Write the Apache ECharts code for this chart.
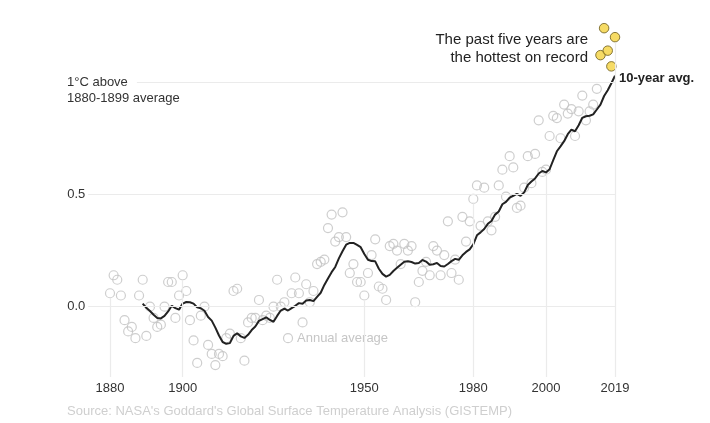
<!DOCTYPE html>
<html><head><meta charset="utf-8">
<script src="https://cdn.jsdelivr.net/npm/echarts@6/dist/echarts.min.js"></script>
<style>html,body{margin:0;padding:0;background:#fff}#c{width:710px;height:423px}</style>
</head><body><div id="c"></div>
<script>
// Annual temperature difference from the 1880-1899 average (°C), 1880..2019
const startYear = 1880;
const annual = [
  0.06, 0.14, 0.12, 0.05, -0.06, -0.11, -0.09, -0.14, 0.05, 0.12,
  -0.13, 0.00, -0.05, -0.09, -0.08, 0.00, 0.11, 0.11, -0.05, 0.05,
  0.14, 0.07, -0.06, -0.15, -0.25, -0.04, 0.00, -0.17, -0.21, -0.26,
  -0.21, -0.22, -0.14, -0.12, 0.07, 0.08, -0.14, -0.24, -0.07, -0.05,
  -0.05, 0.03, -0.06, -0.04, -0.05, 0.00, 0.12, 0.00, 0.02, -0.14,
  0.06, 0.13, 0.06, -0.07, 0.10, 0.02, 0.07, 0.19, 0.20, 0.21,
  0.35, 0.41, 0.29, 0.31, 0.42, 0.31, 0.15, 0.19, 0.11, 0.11,
  0.05, 0.15, 0.23, 0.30, 0.09, 0.08, 0.03, 0.27, 0.28, 0.25,
  0.19, 0.28, 0.25, 0.27, 0.02, 0.11, 0.16, 0.20, 0.14, 0.27,
  0.25, 0.14, 0.23, 0.38, 0.15, 0.21, 0.12, 0.40, 0.29, 0.38,
  0.48, 0.54, 0.36, 0.53, 0.38, 0.34, 0.40, 0.54, 0.61, 0.49,
  0.67, 0.62, 0.44, 0.45, 0.53, 0.67, 0.55, 0.68, 0.83, 0.60,
  0.61, 0.76, 0.85, 0.84, 0.75, 0.90, 0.86, 0.88, 0.76, 0.87,
  0.94, 0.83, 0.87, 0.90, 0.97, 1.12, 1.24, 1.14, 1.07, 1.20
];
// 10-year average (trailing), 1889..2019
const avgStart = 1889;
const avg10 = [
  0.014,
  -0.005, -0.019, -0.036, -0.050, -0.052, -0.041, -0.021, 0.004, -0.006, -0.013,
  0.014, 0.021, 0.020, 0.014, -0.003, -0.007, -0.018, -0.046, -0.062, -0.093,
  -0.128, -0.157, -0.165, -0.162, -0.130, -0.118, -0.132, -0.139, -0.125, -0.104,
  -0.088, -0.063, -0.055, -0.047, -0.059, -0.067, -0.041, -0.017, -0.008, -0.017,
  -0.006, 0.004, 0.016, 0.013, 0.028, 0.030, 0.025, 0.044, 0.062, 0.097,
  0.126, 0.154, 0.177, 0.215, 0.247, 0.276, 0.284, 0.284, 0.275, 0.265,
  0.235, 0.209, 0.203, 0.202, 0.169, 0.146, 0.134, 0.142, 0.159, 0.173,
  0.187, 0.200, 0.202, 0.199, 0.192, 0.195, 0.208, 0.201, 0.187, 0.189,
  0.195, 0.181, 0.179, 0.190, 0.203, 0.213, 0.209, 0.229, 0.244, 0.255,
  0.278, 0.318, 0.331, 0.346, 0.369, 0.382, 0.410, 0.424, 0.456, 0.467,
  0.486, 0.494, 0.502, 0.494, 0.509, 0.542, 0.557, 0.571, 0.593, 0.604,
  0.598, 0.612, 0.653, 0.692, 0.714, 0.737, 0.768, 0.788, 0.781, 0.808,
  0.841, 0.848, 0.850, 0.856, 0.878, 0.900, 0.938, 0.964, 0.995, 1.028
];
const tickYears = [1880, 1900, 1950, 1980, 2000, 2019];
const yTicks = [0, 0.5, 1];
const yTickLabels = ['0.0', '0.5', ''];
const highlightCount = 5;

const years = annual.map((_, i) => startYear + i);
const pts = annual.map((v, i) => [years[i], v]);
const grayPts = pts.slice(0, pts.length - highlightCount);
const hotPts = pts.slice(pts.length - highlightCount);
const avgPts = avg10.map((v, i) => [avgStart + i, v]);

const FONT = '"Liberation Sans", Arial, sans-serif';
const X_MIN = 1874, X_MAX = 2019, Y_MIN = -0.32, Y_MAX = 1.3;
const DROP_BOTTOM = -0.313;
const GRID_COLOR = '#ebebeb';

const gridLines = yTicks.map(v => [
  { coord: [v === 1 ? 1887.4 : X_MIN, v] },
  { coord: [X_MAX, v] }
]);
const dropLines = tickYears.map(yr => {
  const v = annual[yr - startYear];
  const r = (yr > years[years.length - 1 - highlightCount]) ? 0.024 : 0.02;
  return [{ coord: [yr, DROP_BOTTOM] }, { coord: [yr, v - r] }];
});

const chart = echarts.init(document.getElementById('c'), null, { renderer: 'canvas' });
chart.setOption({
  animation: false,
  backgroundColor: '#fff',
  textStyle: { fontFamily: FONT },
  grid: { left: 88.2, top: 14.7, width: 526.8, height: 363.9 },
  xAxis: {
    type: 'value', min: X_MIN, max: X_MAX,
    axisLine: { show: false }, axisTick: { show: false }, splitLine: { show: false },
    axisLabel: {
      customValues: tickYears,
      formatter: v => String(v),
      color: '#333', fontSize: 13, fontFamily: FONT, margin: 3
    }
  },
  yAxis: {
    type: 'value', min: Y_MIN, max: Y_MAX,
    axisLine: { show: false }, axisTick: { show: false }, splitLine: { show: false },
    axisLabel: {
      customValues: [0, 0.5],
      formatter: v => yTickLabels[yTicks.indexOf(v)] ?? '',
      color: '#333', fontSize: 13, fontFamily: FONT, margin: 21, align: 'left',
      padding: [0, 0, 3, 0]
    }
  },
  series: [
    {
      name: 'gridlines', type: 'line', data: [], z: 1, silent: true,
      markLine: {
        silent: true, symbol: ['none', 'none'], label: { show: false },
        lineStyle: { color: GRID_COLOR, width: 1.2, type: 'solid' },
        data: gridLines.concat(dropLines)
      }
    },
    {
      name: 'Annual average', type: 'scatter', data: grayPts, z: 2,
      symbol: 'circle', symbolSize: 9,
      itemStyle: { color: 'rgba(255,255,255,0)', borderColor: '#c2c2c2', borderWidth: 1.2 }
    },
    {
      name: 'Hottest', type: 'scatter', data: hotPts, z: 4,
      symbol: 'circle', symbolSize: 9.5,
      itemStyle: { color: '#f4d23e', borderColor: '#6a5a1a', borderWidth: 1 }
    },
    {
      name: '10-year avg.', type: 'line', data: avgPts, z: 3,
      showSymbol: false, symbol: 'none',
      lineStyle: { color: '#222', width: 2 },
      endLabel: {
        show: true, formatter: '10-year avg.', color: '#222',
        fontWeight: 'bold', fontSize: 13, fontFamily: FONT,
        distance: 4, offset: [0, 3]
      }
    }
  ],
  graphic: [
    { type: 'text', x: 67, y: 82.7, style: { text: '1°C above', fill: '#333', font: '13px ' + FONT, align: 'left', verticalAlign: 'middle' } },
    { type: 'text', x: 67, y: 98.5, style: { text: '1880-1899 average', fill: '#333', font: '13px ' + FONT, align: 'left', verticalAlign: 'middle' } },
    { type: 'text', x: 588, y: 40, style: { text: 'The past five years are', fill: '#222', font: '15px ' + FONT, align: 'right', verticalAlign: 'middle' } },
    { type: 'text', x: 588, y: 58, style: { text: 'the hottest on record', fill: '#222', font: '15px ' + FONT, align: 'right', verticalAlign: 'middle' } },
    { type: 'text', x: 297, y: 338.5, style: { text: 'Annual average', fill: '#c6c6c6', font: '13px ' + FONT, align: 'left', verticalAlign: 'middle' } },
    { type: 'text', x: 67, y: 411, style: { text: "Source: NASA's Goddard's Global Surface Temperature Analysis (GISTEMP)", fill: '#cfcfcf', font: '13px ' + FONT, align: 'left', verticalAlign: 'middle' } }
  ]
});
</script>
</body></html>
